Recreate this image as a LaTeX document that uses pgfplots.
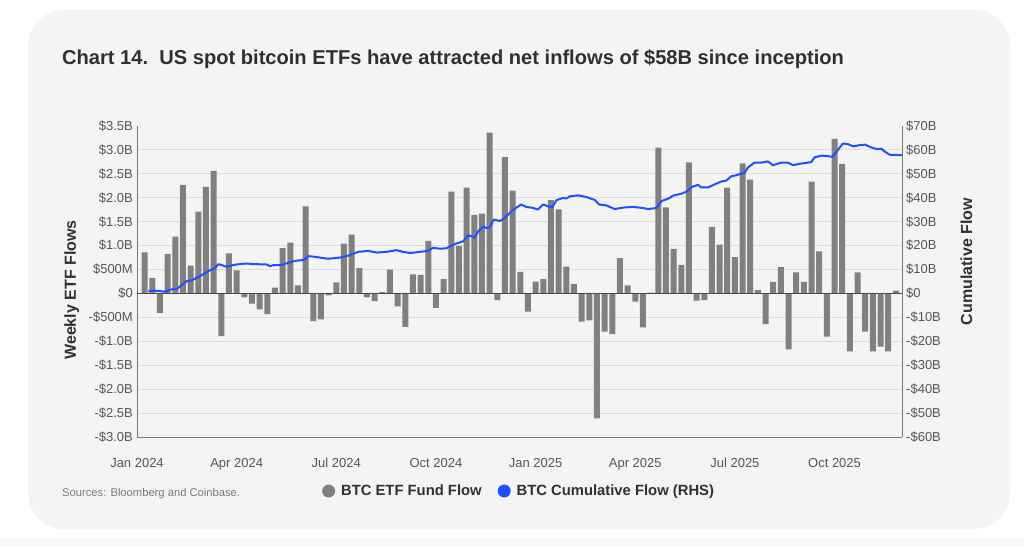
\documentclass[border=0pt]{standalone}
\usepackage{pgfplots}
\pgfplotsset{compat=1.18}
\usepackage{fontspec}
\setmainfont{Liberation Sans}
\definecolor{cardbg}{HTML}{F4F4F4}
\definecolor{outerbg}{HTML}{FAFAFA}
\definecolor{bargray}{HTML}{808080}
\definecolor{cbblue}{HTML}{1E50FF}
\definecolor{gridc}{HTML}{DCDCDC}
\definecolor{axisc}{HTML}{7A7A7A}
\definecolor{zeroc}{HTML}{4A4A4A}
\definecolor{tickc}{HTML}{555555}
\definecolor{titlec}{HTML}{2E3034}
\definecolor{srcc}{HTML}{7A7A7A}

\pgfplotstableread{
idx val
1 0.86
2 0.32
3 -0.41
4 0.82
5 1.19
6 2.27
7 0.58
8 1.71
9 2.23
10 2.56
11 -0.89
12 0.84
13 0.48
14 -0.08
15 -0.21
16 -0.33
17 -0.43
18 0.12
19 0.95
20 1.06
21 0.17
22 1.82
23 -0.58
24 -0.54
25 -0.04
26 0.23
27 1.04
28 1.23
29 0.53
30 -0.08
31 -0.16
32 0.03
33 0.50
34 -0.27
35 -0.70
36 0.40
37 0.39
38 1.10
39 -0.30
40 0.30
41 2.13
42 0.99
43 2.21
44 1.64
45 1.67
46 3.36
47 -0.14
48 2.85
49 2.15
50 0.45
51 -0.38
52 0.25
53 0.30
54 1.95
55 1.76
56 0.56
57 0.20
58 -0.59
59 -0.56
60 -2.61
61 -0.80
62 -0.85
63 0.74
64 0.17
65 -0.17
66 -0.71
67 0.02
68 3.05
69 1.80
70 0.93
71 0.60
72 2.74
73 -0.15
74 -0.14
75 1.39
76 1.02
77 2.21
78 0.76
79 2.72
80 2.38
81 0.07
82 -0.64
83 0.24
84 0.55
85 -1.17
86 0.44
87 0.24
88 2.34
89 0.88
90 -0.90
91 3.23
92 2.71
93 -1.21
94 0.44
95 -0.80
96 -1.21
97 -1.11
98 -1.21
99 0.06
}\weekly

\pgfplotstableread{
idx cum
1.48 1.0
2.13 1.2
3.00 1.0
3.65 0.7
4.30 1.6
5.17 1.9
5.82 3.4
6.48 5.1
7.34 5.8
8.00 6.9
8.65 8.1
9.52 9.7
10.17 10.6
10.60 12.2
11.04 11.9
11.60 11.2
12.13 11.5
12.56 11.9
13.43 12.3
14.30 12.5
15.17 12.3
16.04 12.2
16.91 12.1
17.34 11.4
17.77 11.8
18.86 11.9
19.51 12.6
20.17 13.3
20.82 13.7
21.77 14.0
22.34 15.6
22.99 15.4
23.86 15.0
24.95 14.5
26.47 15.0
27.55 15.8
28.86 17.4
30.16 17.8
31.25 17.1
32.55 17.4
33.86 18.1
34.72 17.4
35.59 16.9
36.68 17.3
37.98 17.8
38.64 19.1
39.50 18.7
40.37 18.9
41.03 20.0
41.68 20.9
42.55 21.8
43.20 24.3
44.07 23.5
44.50 25.9
45.15 28.0
45.59 27.4
46.02 27.7
46.54 30.9
47.33 30.3
47.98 31.5
48.41 33.0
48.85 34.3
49.50 35.9
50.15 37.2
50.80 36.1
51.46 35.9
52.32 35.1
52.98 37.2
53.63 36.4
54.19 36.1
54.72 39.0
55.58 39.9
56.02 39.7
56.45 40.6
57.54 41.0
58.63 40.3
59.71 39.1
60.28 37.2
61.23 36.8
62.32 35.3
63.41 35.9
64.71 36.2
66.01 35.7
66.67 35.3
67.75 35.7
68.41 38.6
69.49 39.9
69.93 40.9
71.01 41.7
71.66 42.5
72.45 44.6
73.19 45.4
73.62 44.3
74.49 44.3
75.36 45.6
76.23 46.8
76.88 47.2
77.53 49.0
78.18 49.4
78.62 49.9
79.27 50.4
79.70 52.7
80.57 54.7
81.44 54.7
82.31 55.2
82.96 53.6
84.05 54.7
84.92 54.7
85.57 53.6
86.44 54.2
87.31 54.6
87.96 54.9
88.40 56.9
89.27 57.6
89.92 57.5
90.70 57.1
91.22 59.1
92.09 62.7
92.74 62.4
93.48 61.5
94.26 62.0
95.00 62.2
95.57 61.3
96.44 60.4
97.09 60.5
97.52 59.4
98.17 58.0
99.48 57.8
99.80 57.8
}\cumul

\begin{document}
\begin{tikzpicture}[x=1pt,y=1pt]
\fill[white] (0,0) rectangle (1024,546);
\fill[outerbg] (0,0) rectangle (1024,8);
\fill[cardbg, rounded corners=36pt] (28,17) rectangle (1010,536);
\node[anchor=base west, inner sep=0pt, font=\fontsize{20.1}{23}\selectfont\bfseries, text=titlec] at (62,481)
  {Chart 14.\ \ US spot bitcoin ETFs have attracted net inflows of \$58B since inception};
\node[anchor=base west, inner sep=0pt, font=\fontsize{11.2}{13}\selectfont, text=srcc] at (62,50)
  {Sources: Bloomberg and Coinbase.};
\node[rotate=90, inner sep=0pt, font=\fontsize{16}{18}\selectfont\bfseries, text=titlec] at (71.7,256) {Weekly ETF Flows};
\node[rotate=90, inner sep=0pt, font=\fontsize{16}{18}\selectfont\bfseries, text=titlec] at (966.5,284.5) {Cumulative Flow};

\begin{axis}[
  at={(137pt,109pt)}, anchor=south west,
  scale only axis, width=765pt, height=311pt,
  xmin=0, xmax=99.8, ymin=-3, ymax=3.5,
  axis x line*=bottom, axis y line*=left,
  axis line style={draw=axisc, line width=0.9pt},
  major tick length=0pt,
  xtick={0,13,26,39,52,65,78,91},
  xticklabels={Jan 2024, Apr 2024, Jul 2024, Oct 2024, Jan 2025, Apr 2025, Jul 2025, Oct 2025},
  ytick={-3,-2.5,-2,-1.5,-1,-0.5,0,0.5,1,1.5,2,2.5,3},
  yticklabels={-\$3.0B,-\$2.5B,-\$2.0B,-\$1.5B,-\$1.0B,-\$500M,\$0,\$500M,\$1.0B,\$1.5B,\$2.0B,\$2.5B,\$3.0B},
  extra y ticks={3.5}, extra y tick labels={\$3.5B}, extra y tick style={grid=none},
  ymajorgrids, grid style={draw=gridc, line width=0.9pt},
  tick label style={font=\fontsize{13}{15}\selectfont, text=tickc},
  yticklabel style={inner sep=0pt, xshift=-4pt},
  xticklabel style={inner sep=0pt, anchor=base, yshift=-30pt},
]
\addplot[ybar, bar width=6pt, bar shift=0pt, fill=bargray, draw=none] table[x=idx, y=val] {\weekly};
\draw[draw=zeroc, line width=1pt] (axis cs:0,0) -- (axis cs:99.8,0);
\end{axis}

\begin{axis}[
  at={(137pt,109pt)}, anchor=south west,
  scale only axis, width=765pt, height=311pt,
  xmin=0, xmax=99.8, ymin=-60, ymax=70,
  axis y line*=right, axis x line=none,
  axis line style={draw=axisc, line width=0.9pt},
  major tick length=0pt,
  ytick={-60,-50,-40,-30,-20,-10,0,10,20,30,40,50,60,70},
  yticklabels={-\$60B,-\$50B,-\$40B,-\$30B,-\$20B,-\$10B,\$0,\$10B,\$20B,\$30B,\$40B,\$50B,\$60B,\$70B},
  tick label style={font=\fontsize{13}{15}\selectfont, text=tickc},
  yticklabel style={inner sep=0pt, xshift=4pt},
  legend image code/.code={\fill[#1, draw=none] (0pt,0pt) circle (6.5pt); \path[draw=none, fill=none] (-6.5pt,0pt) (10.5pt,0pt);},
  legend style={at={(0.4994,-0.1736)}, anchor=center, draw=none, fill=none,
    legend columns=2, font=\fontsize{14.8}{17}\selectfont\bfseries, text=titlec,
    /tikz/every even column/.append style={column sep=14pt}},
]
\addlegendimage{color=bargray}
\addlegendentry{BTC ETF Fund Flow}
\addplot[color=cbblue, line width=2pt, line join=round, mark=none] table[x=idx, y=cum] {\cumul};
\addlegendentry{BTC Cumulative Flow (RHS)}
\end{axis}
\pgfresetboundingbox
\useasboundingbox (0,0) rectangle (1024,546);
\end{tikzpicture}
\end{document}
